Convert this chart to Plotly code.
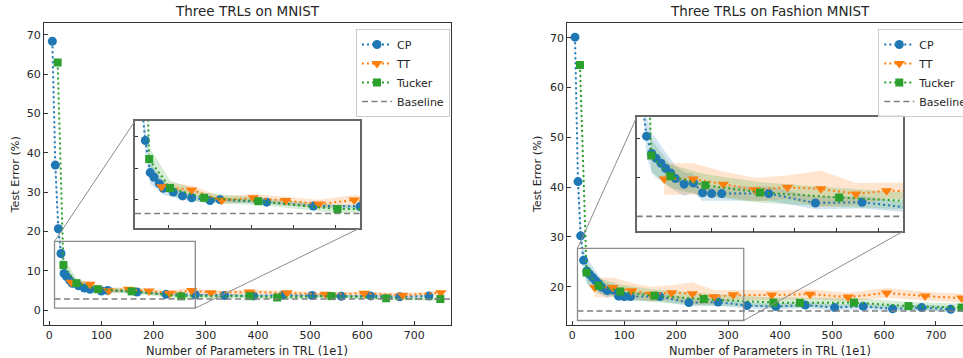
import plotly.graph_objects as go

# ---------------- data : MNIST ----------------
cp_x_m = [5.8, 11.5, 17.3, 22.4, 28.2, 32.8, 39.2, 44, 56, 67, 78, 100, 112, 168, 224, 280, 336, 392, 448, 504, 560, 616, 672, 728]
cp_y_m = [68.4, 36.9, 20.7, 14.4, 9.3, 8.56, 7.55, 6.8, 6.2, 5.6, 5.3, 4.85, 5.0, 4.6, 4.0, 3.9, 3.7, 3.6, 3.8, 3.7, 3.5, 3.6, 3.4, 3.55]
cp_sd_m = [2.5, 3.0, 2.5, 2.2, 1.8, 1.5, 1.2, 1.0, 0.8, 0.6, 0.5, 0.4, 0.35, 0.3, 0.3, 0.3, 0.3, 0.3, 0.3, 0.3, 0.3, 0.3, 0.3, 0.3]

tt_x_m = [42, 78, 114, 152, 191, 231, 273, 310, 384, 456, 530, 604, 678, 751]
tt_y_m = [7.05, 6.55, 4.9, 5.3, 4.85, 4.3, 4.95, 4.4, 4.6, 4.4, 4.05, 4.25, 3.8, 4.4]
tt_sd_m = [0.8, 0.7, 0.6, 0.6, 0.6, 0.7, 0.8, 0.6, 0.6, 0.6, 0.5, 0.5, 0.5, 0.6]

tk_x_m = [16, 27, 52, 93, 158, 253, 384, 437, 541, 646, 750]
tk_y_m = [63.0, 11.45, 6.85, 5.3, 4.75, 3.5, 3.55, 3.2, 3.55, 3.0, 2.8]
tk_sd_m = [2.0, 2.0, 1.2, 0.8, 0.6, 0.6, 0.5, 0.5, 0.5, 0.4, 0.4]

base_m = 2.8

# ---------------- data : Fashion MNIST ----------------
cp_x_f = [5.2, 11, 16.1, 21.8, 28, 33.2, 39.2, 44.8, 50.8, 56.5, 67, 78.2, 89, 100, 112, 168.5, 224.5, 280.5, 336, 392, 448.5, 505, 560, 616.5, 672.5, 728.4]
cp_y_f = [70.1, 41.1, 30.2, 25.3, 23.1, 22.5, 21.85, 21.2, 20.6, 19.9, 19.2, 19.35, 18.1, 18.0, 18.0, 18.0, 16.8, 16.9, 16.2, 16.0, 16.3, 15.8, 16.05, 15.55, 15.8, 15.45]
cp_sd_f = [2.5, 3.0, 2.5, 2.5, 2.5, 2.5, 2.2, 2.0, 1.8, 1.6, 1.5, 1.2, 1.0, 0.9, 0.9, 0.9, 0.8, 0.8, 0.6, 0.6, 0.6, 0.6, 0.6, 0.6, 0.6, 0.6]

tt_x_f = [43, 78, 114, 152, 191, 231, 273, 310, 384, 457.6, 531, 605, 679, 749.6]
tt_y_f = [19.85, 19.85, 19.2, 18.5, 18.8, 18.6, 17.95, 18.35, 18.3, 18.5, 17.9, 18.75, 18.1, 17.7]
tt_sd_f = [2.0, 2.0, 1.6, 1.5, 1.5, 2.3, 1.4, 1.0, 1.0, 1.0, 0.9, 1.0, 0.9, 0.9]

tk_x_f = [14.8, 27.5, 50.5, 92.4, 158, 253, 387, 438, 542, 647, 749.6]
tk_y_f = [64.5, 22.85, 20.2, 19.05, 18.15, 17.5, 16.8, 16.75, 16.8, 16.1, 15.8]
tk_sd_f = [3.0, 2.0, 1.5, 1.4, 1.3, 1.2, 1.0, 1.0, 0.9, 0.8, 0.8]

base_f = 15.1
base_x = [10, 790]

x_ticks = [0, 100, 200, 300, 400, 500, 600, 700]
y_ticks_m = [0, 10, 20, 30, 40, 50, 60, 70]
y_ticks_f = [20, 30, 40, 50, 60, 70]

titles = ["Three TRLs on MNIST", "Three TRLs on Fashion MNIST"]
x_label = "Number of Parameters in TRL (1e1)"
y_label = "Test Error (%)"
names = ["CP", "TT", "Tucker", "Baseline"]

# ---------------- layout constants ----------------
W, H = 963, 358
FONT = "DejaVu Sans"
TXT = "#262626"
BLUE, ORANGE, GREEN = "#1f77b4", "#ff7f0e", "#2ca02c"
FILLS = {BLUE: "rgba(31,119,180,0.2)", ORANGE: "rgba(255,127,14,0.2)", GREEN: "rgba(44,160,44,0.2)"}


def px(v):
    return v / W


def py(v):
    return 1 - v / H


dom = {
    "m": dict(x=[px(44), px(451)], y=[py(325), py(23)]),
    "f": dict(x=[px(567.3), 1.0], y=[py(325), py(23)]),
    "mi": dict(x=[px(135), px(360)], y=[py(228), py(121)]),
    "fi": dict(x=[px(636.7), px(903.3)], y=[py(231.3), py(117.3)]),
}
rng = {
    "m": dict(x=[-10.2, 770.4], y=[-3.8, 73.05]),
    "f": dict(x=[-9.6, 752.0], y=[12.3, 72.95]),
    "mi": dict(x=[10, 280], y=[0.5, 17.5]),
    "fi": dict(x=[10, 330], y=[13.2, 27.7]),
}
axid = {"m": ("x", "y"), "f": ("x2", "y2"), "mi": ("x3", "y3"), "fi": ("x4", "y4")}

fig = go.Figure()

series = {
    "m": [(cp_x_m, cp_y_m, cp_sd_m, BLUE, "circle", 9),
          (tt_x_m, tt_y_m, tt_sd_m, ORANGE, "triangle-down", 10),
          (tk_x_m, tk_y_m, tk_sd_m, GREEN, "square", 8)],
    "f": [(cp_x_f, cp_y_f, cp_sd_f, BLUE, "circle", 9),
          (tt_x_f, tt_y_f, tt_sd_f, ORANGE, "triangle-down", 10),
          (tk_x_f, tk_y_f, tk_sd_f, GREEN, "square", 8)],
}
bases = {"m": base_m, "f": base_f}


def add_panel(key, data_key, legend_name, show_legend):
    xa, ya = axid[key]
    for (xs, ys, sd, col, sym, sz) in series[data_key]:
        up = [a + b for a, b in zip(ys, sd)]
        lo = [a - b for a, b in zip(ys, sd)]
        fig.add_trace(go.Scatter(x=xs + xs[::-1], y=up + lo[::-1], fill="toself",
                                 fillcolor=FILLS[col], line=dict(width=0), mode="lines",
                                 showlegend=False, hoverinfo="skip", xaxis=xa, yaxis=ya))
    for i, (xs, ys, sd, col, sym, sz) in enumerate(series[data_key]):
        fig.add_trace(go.Scatter(x=xs, y=ys, mode="lines+markers", name=names[i],
                                 line=dict(color=col, width=2, dash="2px,3px"),
                                 marker=dict(symbol=sym, size=sz, color=col),
                                 showlegend=show_legend, legend=legend_name,
                                 xaxis=xa, yaxis=ya))
    b = bases[data_key]
    fig.add_trace(go.Scatter(x=base_x, y=[b] * len(base_x), mode="lines", name=names[3],
                             line=dict(color="#7f7f7f", width=1.6, dash="6px,3.5px"),
                             showlegend=show_legend, legend=legend_name,
                             xaxis=xa, yaxis=ya))


add_panel("m", "m", "legend", True)
add_panel("f", "f", "legend2", True)
add_panel("mi", "m", "legend", False)
add_panel("fi", "f", "legend2", False)

tickfont = dict(family=FONT, size=11, color=TXT)


def ax_name(a):
    return "xaxis" if a == "x" else ("yaxis" if a == "y" else ("xaxis" + a[1:] if a[0] == "x" else "yaxis" + a[1:]))


lay = {}
# main axes
for key, yt in (("m", y_ticks_m), ("f", y_ticks_f)):
    xa, ya = axid[key]
    lay[ax_name(xa)] = dict(domain=dom[key]["x"], range=rng[key]["x"], anchor=ya,
                            tickvals=x_ticks, ticks="inside", ticklen=3.5, tickcolor="#333",
                            showline=True, mirror=True, linecolor="#333", linewidth=1.2,
                            showgrid=False, zeroline=False, tickfont=tickfont)
    lay[ax_name(ya)] = dict(domain=dom[key]["y"], range=rng[key]["y"], anchor=xa,
                            tickvals=yt, ticks="inside", ticklen=3.5, tickcolor="#333",
                            showline=True, mirror=(key == "m"), linecolor="#333", linewidth=1.2,
                            showgrid=False, zeroline=False, tickfont=tickfont)
# inset axes
inset_xt = {"mi": [50, 100, 150, 200, 250], "fi": [50, 100, 150, 200, 250, 300]}
inset_yt = {"mi": [5, 10, 15], "fi": [20, 25]}
for key in ("mi", "fi"):
    xa, ya = axid[key]
    lay[ax_name(xa)] = dict(domain=dom[key]["x"], range=rng[key]["x"], anchor=ya,
                            tickvals=inset_xt[key], ticks="inside", ticklen=3.5, tickcolor="#333",
                            showticklabels=False, showline=True, mirror=True,
                            linecolor="#666", linewidth=1.5, showgrid=False, zeroline=False)
    lay[ax_name(ya)] = dict(domain=dom[key]["y"], range=rng[key]["y"], anchor=xa,
                            tickvals=inset_yt[key], ticks="inside", ticklen=3.5, tickcolor="#333",
                            showticklabels=False, showline=True, mirror=True,
                            linecolor="#666", linewidth=1.5, showgrid=False, zeroline=False)


def to_paper(key, xv, yv):
    xd, yd = dom[key]["x"], dom[key]["y"]
    xr, yr = rng[key]["x"], rng[key]["y"]
    return (xd[0] + (xv - xr[0]) / (xr[1] - xr[0]) * (xd[1] - xd[0]),
            yd[0] + (yv - yr[0]) / (yr[1] - yr[0]) * (yd[1] - yd[0]))


shapes = []
for main, ins in (("m", "mi"), ("f", "fi")):
    xa, ya = axid[main]
    ixr, iyr = rng[ins]["x"], rng[ins]["y"]
    shapes.append(dict(type="rect", xref=xa, yref=ya, x0=ixr[0], x1=ixr[1], y0=iyr[0], y1=iyr[1],
                       line=dict(color="#8c8c8c", width=1.3), layer="above"))
    p1 = to_paper(main, ixr[0], iyr[1])
    p2 = to_paper(main, ixr[1], iyr[0])
    dx, dy = dom[ins]["x"], dom[ins]["y"]
    shapes.append(dict(type="line", xref="paper", yref="paper", x0=p1[0], y0=p1[1], x1=dx[0], y1=dy[1],
                       line=dict(color="#8c8c8c", width=1), layer="above"))
    shapes.append(dict(type="line", xref="paper", yref="paper", x0=p2[0], y0=p2[1], x1=dx[1], y1=dy[0],
                       line=dict(color="#8c8c8c", width=1), layer="above"))

ann = []
for key, cx in (("m", px(247.5)), ("f", px(770))):
    ann.append(dict(text=titles[0] if key == "m" else titles[1], x=cx, y=py(11.5), xref="paper", yref="paper",
                    showarrow=False, font=dict(family=FONT, size=13.5, color=TXT), xanchor="center", yanchor="middle"))
    ann.append(dict(text=x_label, x=cx, y=py(350.5), xref="paper", yref="paper",
                    showarrow=False, font=dict(family=FONT, size=11.4, color=TXT), xanchor="center", yanchor="middle"))
for lx in (px(15), px(537.7)):
    ann.append(dict(text=y_label, x=lx, y=py(174.5), xref="paper", yref="paper", textangle=-90,
                    showarrow=False, font=dict(family=FONT, size=11.3, color=TXT), xanchor="center", yanchor="middle"))

legend_style = dict(bgcolor="rgba(255,255,255,0.85)", bordercolor="#cccccc", borderwidth=1,
                    font=dict(family=FONT, size=11, color=TXT), xanchor="left", yanchor="top",
                    itemwidth=30, tracegroupgap=0)

fig.update_layout(
    width=W, height=H, margin=dict(l=0, r=0, t=0, b=0, autoexpand=False),
    paper_bgcolor="white", plot_bgcolor="white",
    font=dict(family=FONT, color=TXT),
    shapes=shapes, annotations=ann,
    legend=dict(x=px(356), y=py(29), **legend_style),
    legend2=dict(x=px(878.3), y=py(29), **legend_style),
    **lay,
)

fig.write_html("out.html", config={"displayModeBar": False},
               post_script="document.body.style.margin='0';document.body.style.overflow='hidden';")
